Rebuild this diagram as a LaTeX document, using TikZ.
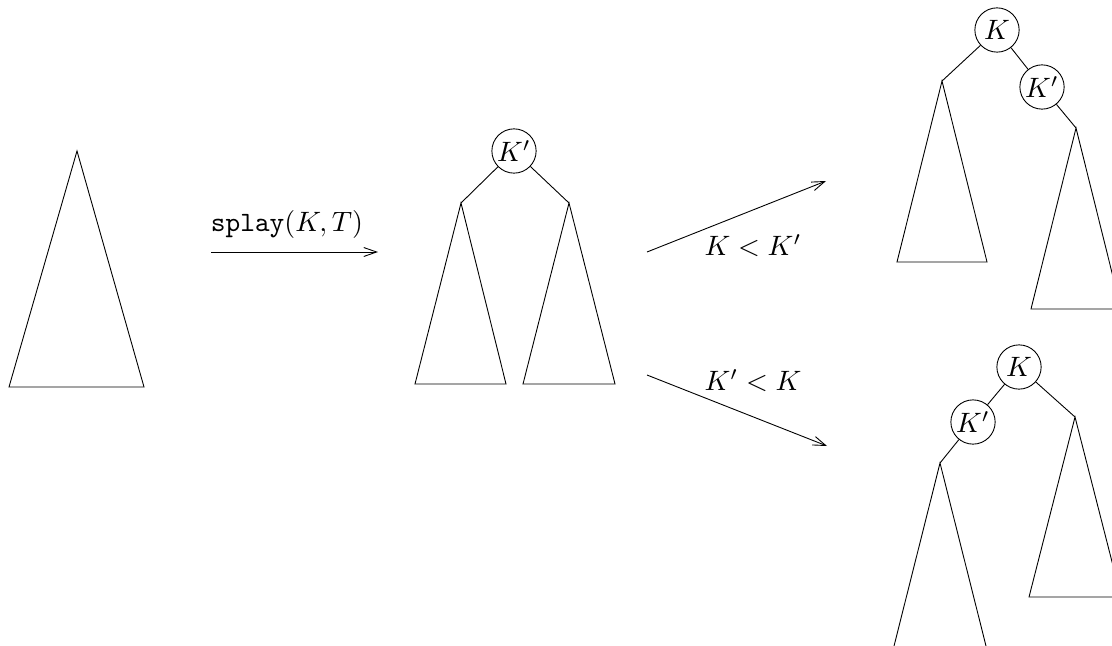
\documentclass[tikz,border=0pt]{standalone}
\usetikzlibrary{arrows.meta}

\begin{document}
\begin{tikzpicture}[x=0.357pt,y=-0.357pt,line width=0.32pt,
  key/.style={draw,circle,inner sep=0.5pt,minimum size=15.8pt},
  map/.style={-{Straight Barb[length=4.6pt,width=3.2pt]}}]
  \useasboundingbox (0,0) rectangle (1112,645);
  % the tree T
  \coordinate (t) at (77,151);
  \draw (t) -- (144,387) -- (9,387) -- cycle;
  \coordinate (s0) at (211,252); \coordinate (s1) at (378,252);
  \draw[map] (s0) -- (s1);
  \node (slbl) at (287,224) {$\mathtt{splay}(K,T)$};
  % after the splay: K' at the root
  \node[key] (m) at (514,151) {$K'$};
  \coordinate (ml) at (461,203); \coordinate (mr) at (569,203);
  \draw (m) -- (ml); \draw (m) -- (mr);
  \draw (ml) -- (506,384) -- (415,384) -- cycle;
  \draw (mr) -- (615,384) -- (523,384) -- cycle;
  % the two cases
  \coordinate (u0) at (647,252); \coordinate (u1) at (826,181);
  \draw[map] (u0) -- (u1);
  \node (ulbl) at (753,246) {$K<K'$};
  \coordinate (d0) at (647,375); \coordinate (d1) at (827,446);
  \draw[map] (d0) -- (d1);
  \node (dlbl) at (753,381) {$K'<K$};
  % K < K'
  \node[key] (a) at (997,30) {$K$};
  \node[key] (ab) at (1042,87) {$K'$};
  \coordinate (al) at (942,81); \coordinate (ar) at (1076,128);
  \draw (a) -- (al); \draw (a) -- (ab); \draw (ab) -- (ar);
  \draw (al) -- (987,262) -- (897,262) -- cycle;
  \draw (ar) -- (1121,309) -- (1031,309) -- cycle;
  % K' < K
  \node[key] (b) at (1019,367) {$K$};
  \node[key] (ba) at (973,422) {$K'$};
  \coordinate (bl) at (940,463); \coordinate (br) at (1075,417);
  \draw (b) -- (ba); \draw (ba) -- (bl); \draw (b) -- (br);
  \draw (bl) -- (987,650) -- (893,650) -- cycle;
  \draw (br) -- (1121,597) -- (1029,597) -- cycle;
\end{tikzpicture}
\end{document}
